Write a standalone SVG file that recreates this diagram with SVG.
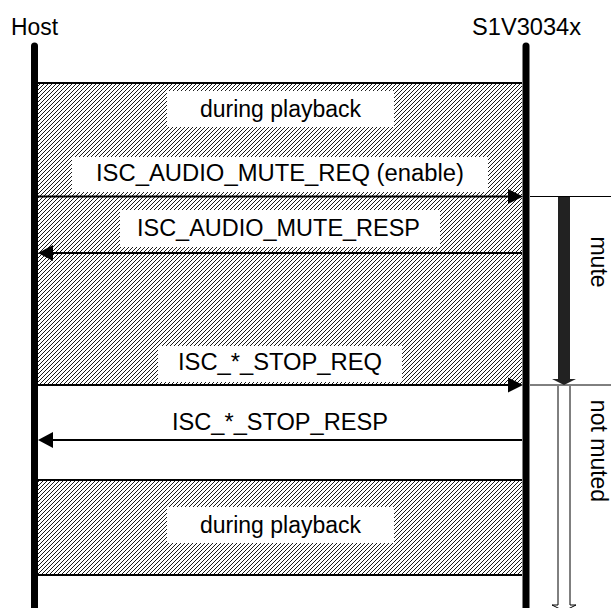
<svg xmlns="http://www.w3.org/2000/svg" width="611" height="608" viewBox="0 0 611 608">
<style>
text{font-family:"Liberation Sans",Arial,sans-serif;font-size:23px;fill:#000}
.mid{text-anchor:middle}
.life{stroke:#000;stroke-width:7;stroke-linecap:round;fill:none}
.msg{stroke:#000;stroke-width:2;fill:none}
.ext{stroke:#000;stroke-width:1;fill:none}
.lbl{fill:#fff}
.hatch{fill:url(#hatch)}
.head{fill:#000}
</style>
<defs>
<pattern id="hatch" patternUnits="userSpaceOnUse" width="4" height="4">
<rect width="4" height="4" fill="#fff"/>
<path d="M-1,1 L1,-1 M0,4 L4,0 M3,5 L5,3" stroke="#000" stroke-width="0.9"/>
</pattern>
</defs>
<g id="phases">
<rect class="hatch" x="38" y="83" width="484" height="302"/>
<rect class="hatch" x="38" y="480" width="484" height="95"/>
<line class="msg" x1="38" y1="83" x2="522" y2="83"/>
<line class="msg" x1="38" y1="480" x2="522" y2="480"/>
<line class="msg" x1="38" y1="575" x2="522" y2="575"/>
</g>
<g id="host">
<text x="11" y="35" textLength="47" lengthAdjust="spacingAndGlyphs">Host</text>
<line class="life" x1="34.5" y1="46" x2="34.5" y2="612"/>
</g>
<g id="s1v3034x">
<text x="472" y="35" textLength="109" lengthAdjust="spacingAndGlyphs">S1V3034x</text>
<line class="life" x1="526" y1="46" x2="526" y2="612"/>
</g>
<g id="label-playback-1">
<rect class="lbl" x="167" y="91" width="227" height="36"/>
<text class="mid" x="280.5" y="117">during playback</text>
</g>
<g id="label-playback-2">
<rect class="lbl" x="167" y="507" width="227" height="36"/>
<text class="mid" x="280.5" y="533">during playback</text>
</g>
<g id="connectors">
<g id="msg-mute-req">
<rect class="lbl" x="72" y="157" width="416" height="35"/>
<text x="96" y="181" textLength="368" lengthAdjust="spacingAndGlyphs">ISC_AUDIO_MUTE_REQ (enable)</text>
<line class="msg" x1="38" y1="196.5" x2="510" y2="196.5"/>
<polygon class="head" points="508,189 523,196.5 508,204"/>
<line class="ext" x1="530" y1="196.5" x2="611" y2="196.5"/>
</g>
<g id="msg-mute-resp">
<rect class="lbl" x="120" y="210" width="320" height="37"/>
<text x="137" y="236" textLength="283" lengthAdjust="spacingAndGlyphs">ISC_AUDIO_MUTE_RESP</text>
<line class="msg" x1="522" y1="253" x2="50" y2="253"/>
<polygon class="head" points="53,245 38,253 53,261"/>
</g>
<g id="msg-stop-req">
<rect class="lbl" x="158" y="346" width="244" height="36"/>
<text x="178" y="370" textLength="204" lengthAdjust="spacingAndGlyphs">ISC_*_STOP_REQ</text>
<line class="msg" x1="38" y1="385" x2="510" y2="385"/>
<polygon class="head" points="508,377.5 523,385 508,392.5"/>
<line class="ext" x1="530" y1="385" x2="611" y2="385"/>
</g>
<g id="msg-stop-resp">
<text x="172" y="430" textLength="216" lengthAdjust="spacingAndGlyphs">ISC_*_STOP_RESP</text>
<line class="msg" x1="522" y1="440" x2="50" y2="440"/>
<polygon class="head" points="53,432 38,440 53,448"/>
</g>
</g>
<g id="state-mute">
<path d="M558,197 H570 V379 H576 L564,385 L552,379 H558 Z" fill="#222"/>
<text class="mid" transform="translate(591,262) rotate(90)">mute</text>
</g>
<g id="state-not-muted">
<path d="M558,386 V605 H552 L564,611 L576,605 H570 V386" fill="#fff" stroke="#000" stroke-width="1"/>
<text class="mid" transform="translate(591,451) rotate(90)">not muted</text>
</g>
</svg>
